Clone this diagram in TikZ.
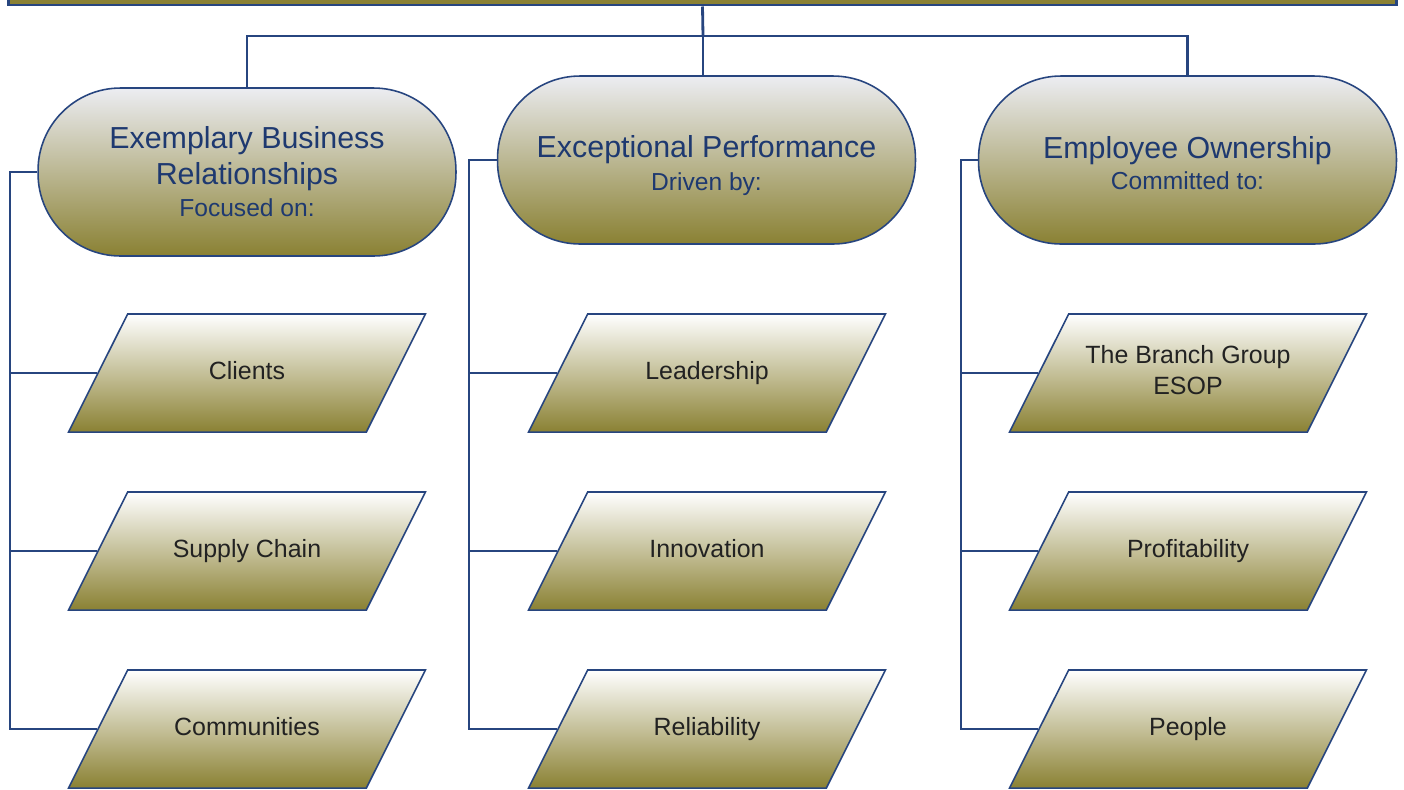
\documentclass[tikz,border=0pt]{standalone}
\usepackage{fontspec}
\setmainfont{Liberation Sans}
\usetikzlibrary{shapes.geometric}
\definecolor{navy}{HTML}{27457F}
\definecolor{olive}{HTML}{8A8133}
\definecolor{mist}{HTML}{ECEDF2}
\definecolor{titleblue}{HTML}{1E3970}
\definecolor{ink}{HTML}{222222}
\newcommand{\pillarhead}{\fontsize{17.3}{20.4}\selectfont}
\newcommand{\pillarsub}{\fontsize{14}{18}\selectfont}
\newcommand{\itemtext}{\fontsize{14.2}{18}\selectfont}

\begin{document}
\begin{tikzpicture}[x=0.02cm, y=-0.02cm, thick, draw=navy,
  topbar/.style = {draw=navy, line width=1.7pt, fill=olive, minimum width=27.78cm, minimum height=0.8cm},
  pillar/.style = {draw=navy, line width=0.9pt, rounded corners=1.65cm, minimum width=8.36cm, minimum height=3.36cm, top color=mist, bottom color=olive, text=titleblue, align=center, font=\pillarhead},
  item/.style = {trapezium, trapezium left angle=63.4, trapezium right angle=116.6, trapezium stretches body, draw=navy, line width=0.9pt, minimum width=7.14cm, text height=10pt, text depth=3pt, inner ysep=27.1pt, top color=white, bottom color=olive, text=ink, align=center, font=\itemtext},
  link/.style = {draw=navy, line width=0.9pt},
  trunk/.style = {draw=navy, line width=1.6pt}]
\useasboundingbox (0,0) rectangle (1404,789);
%\node[style] (nodeID) at (x,y) {label};
\node[topbar] (top) at (702.5,-15) {};
\coordinate (bar) at (703,36);

\node[pillar] (rel) at (247,172) {Exemplary Business\\ Relationships\\[-2pt] {\pillarsub Focused on:}};
\node[pillar] (perf) at (706.5,160) {\rule{0pt}{19pt}Exceptional Performance\\[-2pt] {\pillarsub Driven by:}};
\node[pillar] (own) at (1187.5,160) {\rule{0pt}{16pt}Employee Ownership\\[-3pt] {\pillarsub Committed to:}};

\node[item] (clients) at (247,373) {Clients};
\node[item] (supply) at (247,551) {Supply Chain};
\node[item] (comm) at (247,729) {Communities};
\node[item] (lead) at (707,373) {Leadership};
\node[item] (innov) at (707,551) {Innovation};
\node[item] (rely) at (707,729) {Reliability};
\node[item, text height=28pt, inner ysep=18.1pt] (esop) at (1188,373) {The Branch Group\\ ESOP};
\node[item] (profit) at (1188,551) {Profitability};
\node[item] (people) at (1188,729) {People};

\coordinate (relx) at (10,0);
\coordinate (perfx) at (469,0);
\coordinate (ownx) at (961,0);

\draw[trunk] (top.south) -- (bar);
\draw[trunk] (rel.north) |- (bar) -| (own.north);
\draw[link] (bar) -- (bar |- perf.north);

\draw[link] (rel.west) -| (relx |- comm.west) -- (comm.west);
\draw[link] (clients.west -| relx) -- (clients.west);
\draw[link] (supply.west -| relx) -- (supply.west);

\draw[link] (perf.west) -| (perfx |- rely.west) -- (rely.west);
\draw[link] (lead.west -| perfx) -- (lead.west);
\draw[link] (innov.west -| perfx) -- (innov.west);

\draw[link] (own.west) -| (ownx |- people.west) -- (people.west);
\draw[link] (esop.west -| ownx) -- (esop.west);
\draw[link] (profit.west -| ownx) -- (profit.west);
\end{tikzpicture}
\end{document}
